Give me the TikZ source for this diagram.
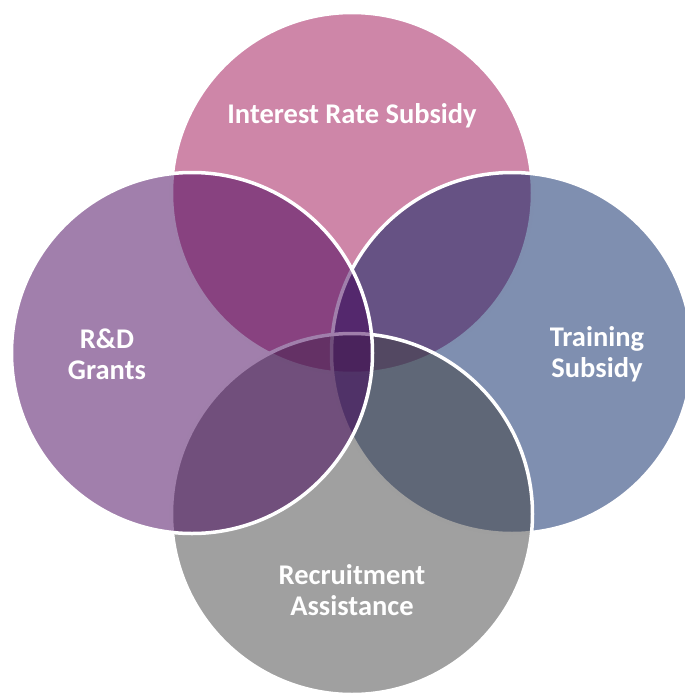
\documentclass[tikz,border=0pt]{standalone}
\usepackage{fontspec}
\setmainfont{Carlito}
\usetikzlibrary{positioning}

\definecolor{irs}{RGB}{157,13,81}
\definecolor{trs}{RGB}{0,31,97}
\definecolor{rca}{RGB}{65,65,65}
\definecolor{rdg}{RGB}{67,0,89}

\tikzset{
  venn/.style={circle, draw=white, line width=3.5pt, fill opacity=.5, minimum size=361pt, inner sep=0pt},
  lbl/.style={text=white, align=center, font=\fontsize{28.5}{31}\selectfont\bfseries}
}

\begin{document}
\begin{tikzpicture}[x=1pt, y=-1pt]
  \useasboundingbox (0,0) rectangle (685,694);
  % circles, back to front
  \node (irc) at (352,193) [venn, fill=irs] {};
  \node (trc) at (512,353) [venn, fill=trs] {};
  \node (rcc) at (352,514) [venn, fill=rca] {};
  \node (rdc) at (192,353) [venn, fill=rdg] {};
  % labels
  \node (irl) at (352,116) [lbl] {Interest Rate Subsidy};
  \node (trl) at (597,354) [lbl] {Training\\Subsidy};
  \node (rcl) at (352,590) [lbl] {Recruitment\\Assistance};
  \node (rdl) at (107,354) [lbl] {R\&D\\Grants};
\end{tikzpicture}
\end{document}
